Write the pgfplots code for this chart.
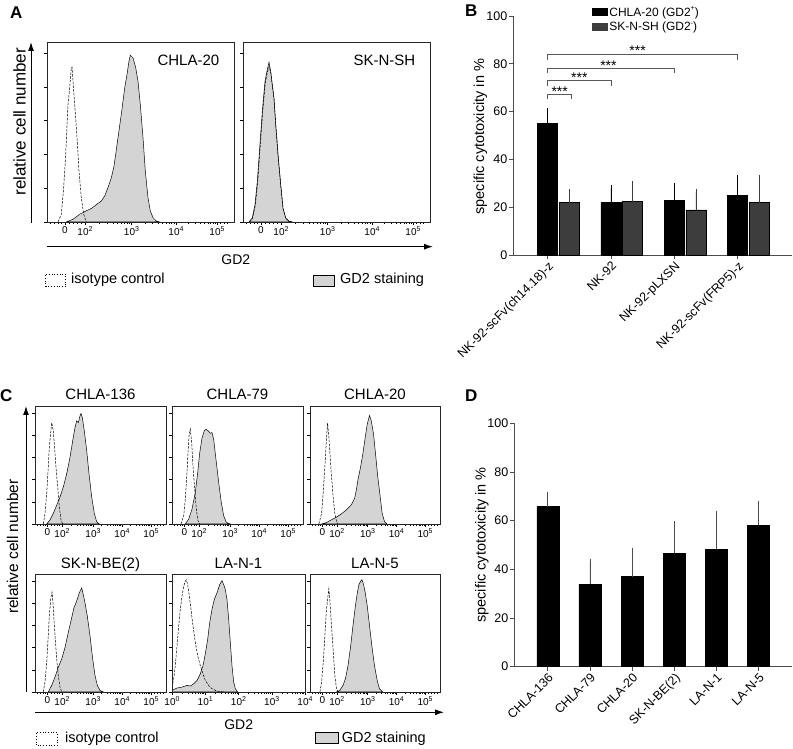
\documentclass[border=0pt]{standalone}
\usepackage{fontspec}
\setmainfont{Liberation Sans}
\usepackage{pgfplots}
\pgfplotsset{compat=1.18}
\usetikzlibrary{arrows.meta}
\newcommand\fs[1]{\fontsize{#1pt}{#1pt}\selectfont}
\newcommand\tsup[1]{\raisebox{0.42em}{\fs{7}#1}}
\pgfplotsset{
 hist/.style={scale only axis, anchor=south west, ymin=0, ymax=5.33, ytick={0,1,2,3,4,5}, yticklabels={},
   tick align=outside, tick pos=left, major tick length=3pt, minor tick length=1.6pt,
   every tick/.append style={black, line width=0.5pt},
   axis line style={black!85, line width=0.6pt},
   xticklabel style={font=\fs{10}, inner sep=1.5pt}, axis on top},
 stain/.style={fill=black!17, draw=black, line width=0.5pt},
 iso/.style={draw=black, line width=0.5pt, dash pattern=on 2.5pt off 1.3pt},
 histA/.style={hist, width=187pt, height=180pt, xmin=0, xmax=187,
   xtick={18,38,84.5,129,170},
   xticklabels={0,10\tsup{2},10\tsup{3},10\tsup{4},10\tsup{5}},
   minor xtick={3,7,11,14.5,22,26,30,34,52,60.2,66,70.5,74.2,77.3,80,82.4,97.9,105.7,111.3,115.6,119.1,122.1,124.7,127,141.3,148.6,153.7,157.7,160.9,163.6,166,168.1,173,177,180}},
 histC/.style={hist, width=131pt, height=118pt, xmin=0, xmax=131,
   xtick={12.5,27,58,87,116},
   xticklabels={0,10\tsup{2},10\tsup{3},10\tsup{4},10\tsup{5}},
   minor xtick={2,5,8,10.5,16,19,22,24.5,36.3,41.8,45.7,48.7,51.1,53.2,55,56.6,66.7,71.8,75.5,78.3,80.6,82.5,84.2,85.7,95.7,100.8,104.5,107.3,109.6,111.5,113.2,114.7,119,122,125,128}},
 barax/.style={scale only axis, anchor=south west, ymin=0, ymax=100, ytick={0,20,40,60,80,100},
   axis lines*=left, axis line style={black!70, line width=0.8pt},
   tick align=outside, major tick length=4pt, every tick/.append style={black!70, line width=0.8pt},
   /pgf/number format/assume math mode=true,
   yticklabel style={font=\fs{12.5}, inner sep=1.5pt},
   xticklabel style={font=\fs{12.5}, rotate=45, anchor=north east, inner sep=1pt},
   ylabel style={font=\fs{14.5}, anchor=center},
   clip=false},
}
\begin{document}
\begin{tikzpicture}
\useasboundingbox (0,0) rectangle (793pt,749pt);
% panel labels
\node[font=\bfseries\fs{17}, anchor=base west, inner sep=0pt] at (10pt,730.7pt) {A};
\node[font=\bfseries\fs{17}, anchor=base west, inner sep=0pt] at (465pt,732.3pt) {B};
\node[font=\bfseries\fs{17}, anchor=base west, inner sep=0pt] at (0pt,347.3pt) {C};
\node[font=\bfseries\fs{17}, anchor=base west, inner sep=0pt] at (465pt,347.3pt) {D};

% ---------------- Panel A ----------------
\draw[line width=1pt, -{Latex[length=9pt,width=6pt]}] (31pt,526.3pt) -- (31pt,707pt);
\node[rotate=90, font=\fs{17}] at (19.5pt,627.3pt) {relative cell number};
\draw[line width=1pt, -{Latex[length=9pt,width=6pt]}] (47pt,502.3pt) -- (433pt,502.3pt);
\node[font=\fs{14}] at (235.8pt,489pt) {GD2};
\draw[dotted, line width=0.7pt] (45pt,462.3pt) rectangle (65.7pt,474.7pt);
\node[font=\fs{14.5}, anchor=west, inner sep=0pt] at (71pt,469.3pt) {isotype control};
\draw[fill=black!17, line width=0.7pt] (313.3pt,463pt) rectangle (334.3pt,474pt);
\node[font=\fs{14.5}, anchor=west, inner sep=0pt] at (340pt,469.3pt) {GD2 staining};

\begin{axis}[histA, at={(47pt,527pt)}]
\addplot[stain] coordinates {(19.3,0) (26,0.08) (32.7,0.23) (39.3,0.33) (44.3,0.40) (51,0.55) (54.3,0.62) (57.7,0.77) (61,1.02) (64.3,1.31) (66.7,1.61) (68.7,2.0) (71,2.5) (74.3,3.19) (77.7,3.97) (80,4.37) (82,4.76) (83.3,4.94) (86,4.86) (88.7,4.57) (91,4.17) (93.3,3.48) (96,2.5) (98.3,1.51) (101,0.72) (103.3,0.33) (106,0.13) (109.3,0.03) (112.7,0)} \closedcycle;
\addplot[iso] coordinates {(11,0) (14.3,0.23) (16.7,1.02) (18.7,2.0) (21,3.48) (22.7,3.97) (24.3,4.57) (25,4.59) (26,4.17) (27.7,3.48) (30,2.5) (32,1.51) (34.3,0.72) (36.7,0.23) (39.3,0)};
\node[anchor=east, font=\fs{15}] at (rel axis cs:0.94,0.896) {CHLA-20};
\end{axis}

\begin{axis}[histA, at={(243pt,527pt)}]
\addplot[stain] coordinates {(6,0) (9.3,0.12) (12,0.51) (14.3,1.2) (16.7,2.19) (19.3,3.27) (22,4.16) (24.3,4.51) (26,4.73) (27.7,4.46) (29.3,4.06) (31,3.67) (32.7,2.88) (35,1.99) (37.7,1.10) (40,0.41) (42.7,0.12) (46,0.02) (49.3,0)} \closedcycle;
\addplot[iso] coordinates {(6.5,0) (9.5,0.1) (12.3,0.5) (14.6,1.15) (17,2.15) (19.5,3.2) (22.2,4.1) (24.5,4.45) (26.2,4.6) (27.9,4.4) (29.5,4.0) (31.2,3.6) (32.9,2.85) (35.2,1.95) (37.9,1.05) (40.2,0.38) (42.9,0.1) (46.2,0.02) (49.5,0)};
\node[anchor=east, font=\fs{15}] at (rel axis cs:0.94,0.896) {SK-N-SH};
\end{axis}

% ---------------- Panel C ----------------
\draw[line width=1pt, -{Latex[length=9pt,width=6pt]}] (26pt,57.3pt) -- (26pt,343pt);
\node[rotate=90, font=\fs{15.5}] at (12.5pt,202.3pt) {relative cell number};
\draw[line width=1pt, -{Latex[length=9pt,width=6pt]}] (35pt,36.7pt) -- (444pt,36.7pt);
\node[font=\fs{14}] at (238.7pt,24pt) {GD2};
\draw[dotted, line width=0.7pt] (36pt,4pt) rectangle (57.3pt,16.3pt);
\node[font=\fs{14.5}, anchor=west, inner sep=0pt] at (65pt,10.7pt) {isotype control};
\draw[fill=black!17, line width=0.7pt] (315pt,5.7pt) rectangle (338.3pt,16.3pt);
\node[font=\fs{14.5}, anchor=west, inner sep=0pt] at (341.7pt,10.7pt) {GD2 staining};

\node[font=\fs{15}, anchor=base, inner sep=0pt] at (100.5pt,349.3pt) {CHLA-136};
\node[font=\fs{15}, anchor=base, inner sep=0pt] at (237.5pt,349.3pt) {CHLA-79};
\node[font=\fs{15}, anchor=base, inner sep=0pt] at (375pt,349.3pt) {CHLA-20};
\node[font=\fs{15}, anchor=base, inner sep=0pt] at (100.5pt,180.9pt) {SK-N-BE(2)};
\node[font=\fs{15}, anchor=base, inner sep=0pt] at (238.5pt,180.9pt) {LA-N-1};
\node[font=\fs{15}, anchor=base, inner sep=0pt] at (375pt,180.9pt) {LA-N-5};

\begin{axis}[histC, at={(35pt,225pt)}]
\addplot[stain] coordinates {(11.7,0) (15,0.18) (18.3,0.48) (21.7,0.85) (25,1.22) (28.3,1.67) (31.7,2.27) (35,3.01) (37.7,3.76) (40,4.36) (41.7,4.66) (43.3,4.58) (45,4.88) (46,4.99) (47.3,4.81) (49.3,4.21) (51.7,3.31) (54,2.27) (56.7,1.22) (59.3,0.48) (61.7,0.1) (64.3,0)} \closedcycle;
\addplot[iso] coordinates {(8.3,0) (10,0.48) (11.7,1.37) (13.3,2.57) (14.3,3.46) (15.7,4.13) (16.7,4.58) (18.3,4.21) (19.3,3.61) (21,2.57) (22.7,1.67) (24.3,0.78) (26,0.18) (27.7,0)};
\end{axis}

\begin{axis}[histC, at={(172pt,225pt)}]
\addplot[stain] coordinates {(13.3,0) (16.7,0.22) (20,0.67) (23.3,1.42) (25.7,2.31) (27.7,3.21) (30,3.88) (32.3,4.22) (34.3,4.28) (36.7,4.18) (38.3,4.1) (40,4.13) (41.7,3.81) (44,2.91) (46.7,1.87) (49.3,0.97) (51.7,0.37) (54.3,0.07) (58.3,0)} \closedcycle;
\addplot[iso] coordinates {(9,0) (11.7,0.37) (13.3,1.12) (15,2.31) (16,3.21) (17,3.96) (18.3,4.28) (19.7,3.66) (21,2.61) (22.7,1.57) (24.3,0.67) (26,0.15) (27.7,0)};
\end{axis}

\begin{axis}[histC, at={(310pt,225pt)}, width=130pt]
\addplot[stain] coordinates {(11.7,0) (16.7,0.07) (21.7,0.19) (26.7,0.31) (31.7,0.46) (36.7,0.64) (41.7,0.87) (45,1.16) (46.7,1.54) (48.3,1.99) (51,2.58) (53.3,3.18) (55.7,3.93) (57.7,4.52) (60,4.90) (61.7,4.67) (64,4.07) (66,3.18) (68.3,2.13) (70.7,1.24) (72.7,0.49) (75,0.12) (77.7,0)} \closedcycle;
\addplot[iso] coordinates {(9,0) (11.7,0.49) (13.3,1.39) (15,2.58) (16.3,3.63) (17.7,4.55) (19,3.93) (20.3,3.03) (21.7,2.13) (23.3,1.24) (25,0.49) (26.7,0.12) (28.3,0)};
\end{axis}

\begin{axis}[histC, at={(35pt,57pt)}]
\addplot[stain] coordinates {(13.3,0) (16.7,0.30) (20,0.67) (23.3,1.12) (26.7,1.49) (30,2.01) (33.3,2.69) (36.7,3.36) (39,3.81) (41,4.03) (42.7,4.25) (44.3,4.48) (46.7,4.70) (48.3,4.40) (50,4.03) (52.3,3.43) (55,2.54) (57.7,1.49) (60,0.75) (62.3,0.30) (65,0.07) (68.3,0)} \closedcycle;
\addplot[iso] coordinates {(8.3,0) (10,0.45) (11.7,1.34) (13.3,2.54) (14.3,3.43) (15.7,4.18) (17,4.51) (18,4.03) (19,3.28) (20.3,2.39) (21.7,1.49) (23.3,0.75) (25,0.22) (26.7,0)};
\end{axis}

\begin{axis}[hist, at={(172pt,57pt)}, width=133pt, height=118pt, xmin=0, xmax=133,
   xtick={0,33.25,66.5,99.75,133},
   xticklabels={10\tsup{0},10\tsup{1},10\tsup{2},10\tsup{3},10\tsup{4}},
   minor xtick={10,15.9,20,23.2,25.9,28.1,30,31.7,43.3,49.1,53.3,56.5,59.1,61.4,63.3,65,76.5,82.4,86.5,89.7,92.4,94.6,96.5,98.2,109.8,115.6,119.8,123,125.6,127.9,129.8,131.4}]
\addplot[stain] coordinates {(0,0.07) (5,0.18) (10,0.22) (15,0.3) (18.3,0.27) (21.7,0.37) (25,0.52) (28.3,0.82) (31,1.19) (33.3,1.72) (35.7,2.39) (37.7,3.13) (40,3.73) (42.3,4.18) (45,4.48) (47.7,4.85) (50,5.03) (51.7,4.85) (53.3,4.63) (55,4.18) (56.7,3.28) (58.3,2.24) (60,1.19) (61.7,0.45) (63.3,0.15) (65.7,0)} \closedcycle;
\addplot[iso] coordinates {(0,0.22) (1.7,0.6) (3.3,1.19) (5,2.09) (6.7,2.99) (8.3,3.73) (10,4.33) (11.7,4.78) (13.3,5.0) (14.3,5.07) (15.7,4.85) (17.3,4.33) (19,3.73) (21,2.99) (23.3,2.24) (25.7,1.64) (28.3,1.19) (31,0.82) (33.3,0.52) (36.7,0.3) (40,0.15) (45,0.04) (51.7,0)};
\end{axis}

\begin{axis}[histC, at={(310pt,57pt)}, width=130pt]
\addplot[stain] coordinates {(26.7,0) (30,0.07) (33.3,0.3) (35.7,0.6) (38.3,1.19) (41,2.09) (43.3,2.99) (45.7,3.88) (47.7,4.48) (49.3,4.85) (51,5.0) (52.3,5.07) (54,4.85) (55.7,4.48) (57.7,3.88) (60,2.99) (62.3,2.09) (65,1.19) (67.7,0.52) (70,0.15) (73.3,0)} \closedcycle;
\addplot[iso] coordinates {(10,0) (11.7,0.45) (13.3,1.34) (15,2.54) (16.3,3.58) (17.7,4.18) (19,4.66) (20,4.18) (21,3.43) (22.3,2.54) (23.7,1.64) (25,0.75) (26.7,0.15) (28.3,0)};
\end{axis}

% ---------------- Panel B ----------------
\begin{axis}[barax, at={(513pt,494pt)}, width=279pt, height=239pt,
   xmin=-0.548, xmax=3.86,
   xtick={0,1,2,3},
   xticklabels={NK-92-scFv(ch14.18)-z,NK-92,NK-92-pLXSN,NK-92-scFv(FRP5)-z},
   ylabel={specific cytotoxicity in \%},
   ylabel style={at={(axis description cs:-0.1165,0.495)}},
   legend style={at={(0.282,1.047)}, anchor=north west, draw=none, fill=none, font=\fs{12},
     inner sep=0pt, row sep=0.5pt, cells={anchor=west}},
   legend cell align=left]
\addplot[ybar, bar width=20pt, bar shift=0pt, fill=black, draw=black, line width=0.5pt,
   legend image code/.code={\fill[black] (0pt,-3pt) rectangle (15pt,4pt);},
   error bars/.cd, y dir=plus, y explicit, error mark=-,
   error bar style={black, line width=0.7pt}, error mark options={black, mark size=3.3pt, line width=0.7pt}]
   coordinates {(0,55) +- (0,5) (1,21.9) +- (0,6.1) (2,23) +- (0,5.6) (3,24.8) +- (0,7.4)};
\addlegendentry{CHLA-20 (GD2\tsup{+})}
\addplot[ybar, bar width=20pt, bar shift=0pt, fill=black!76, draw=black, line width=0.5pt,
   legend image code/.code={\fill[black!76] (0pt,-3pt) rectangle (15pt,4pt);},
   error bars/.cd, y dir=plus, y explicit, error mark=-,
   error bar style={black!76, line width=0.7pt}, error mark options={black!76, mark size=3.3pt, line width=0.7pt}]
   coordinates {(0.343,21.9) +- (0,4.3) (1.343,22.3) +- (0,7.2) (2.343,18.9) +- (0,7.4) (3.343,21.9) +- (0,10.3)};
\addlegendentry{SK-N-SH (GD2\tsup{-})}
\addplot[black!65, line width=0.7pt, forget plot] coordinates {(0,65.1) (0,67.2) (0.379,67.2) (0.379,65.1)};
\addplot[black!65, line width=0.7pt, forget plot] coordinates {(0,70.7) (0,72.9) (1,72.9) (1,70.7)};
\addplot[black!65, line width=0.7pt, forget plot] coordinates {(0,76) (0,78.1) (2,78.1) (2,76)};
\addplot[black!65, line width=0.7pt, forget plot] coordinates {(0,81.6) (0,84.1) (3,84.1) (3,81.6)};
\node[font=\fs{14}, anchor=base, inner sep=0pt] at (axis cs:0.19,66.4) {***};
\node[font=\fs{14}, anchor=base, inner sep=0pt] at (axis cs:0.5,72.1) {***};
\node[font=\fs{14}, anchor=base, inner sep=0pt] at (axis cs:0.96,77.3) {***};
\node[font=\fs{14}, anchor=base, inner sep=0pt] at (axis cs:1.42,83.3) {***};
\end{axis}

% ---------------- Panel D ----------------
\begin{axis}[barax, at={(514pt,82.3pt)}, width=278pt, height=243.4pt,
   xmin=-0.8, xmax=5.79,
   xtick={0,1,2,3,4,5},
   xticklabels={CHLA-136,CHLA-79,CHLA-20,SK-N-BE(2),LA-N-1,LA-N-5},
   ylabel={specific cytotoxicity in \%},
   ylabel style={at={(axis description cs:-0.116,0.5)}}]
\addplot[ybar, bar width=22pt, bar shift=0pt, fill=black, draw=black, line width=0.5pt,
   error bars/.cd, y dir=plus, y explicit, error mark=-,
   error bar style={black!70, line width=0.8pt}, error mark options={black!70, mark size=3pt, line width=0.8pt}]
   coordinates {(0,65.8) +- (0,4.7) (1,33.8) +- (0,9.4) (2,37) +- (0,10.7) (3,46.6) +- (0,12) (4,48.2) +- (0,14.7) (5,58.2) +- (0,8.8)};
\end{axis}
\end{tikzpicture}
\end{document}
